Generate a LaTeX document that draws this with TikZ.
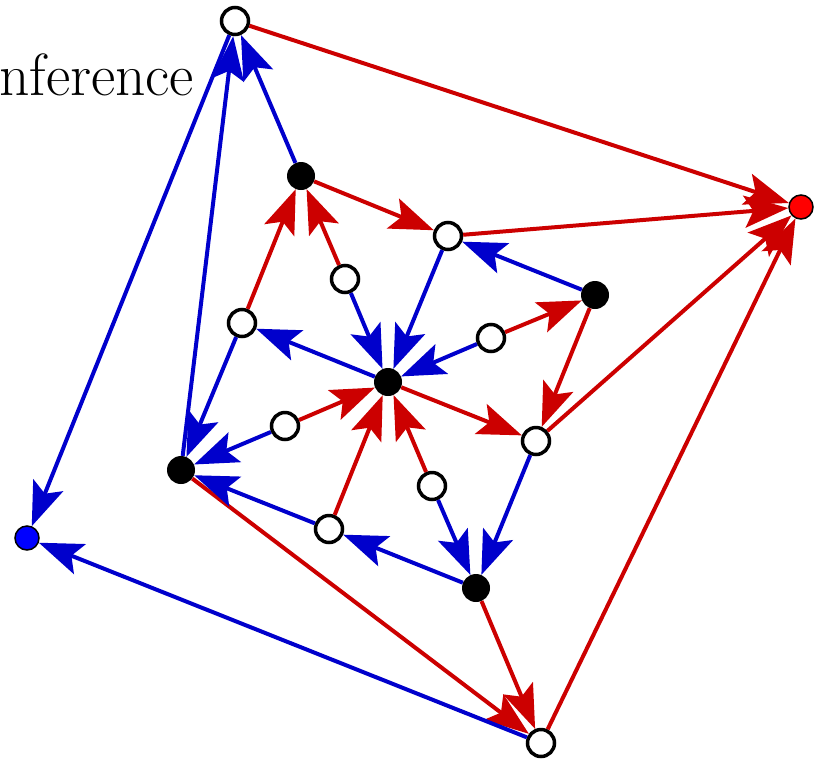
\documentclass[tikz,border=0pt]{standalone}
\usetikzlibrary{arrows.meta}
\definecolor{ered}{RGB}{204,0,0}
\definecolor{eblue}{RGB}{0,0,204}
\definecolor{nred}{RGB}{255,0,0}
\definecolor{nblue}{RGB}{0,0,255}
\begin{document}
\begin{tikzpicture}[x=1pt,y=-1pt,
  wn/.style={circle, draw=black, line width=3.5pt, fill=white, minimum size=27pt, inner sep=0pt},
  bn/.style={circle, fill=black, minimum size=28pt, inner sep=0pt},
  rn/.style={circle, fill=nred, draw=black, line width=1.5pt, minimum size=24pt, inner sep=0pt},
  bln/.style={circle, fill=nblue, draw=black, line width=1.5pt, minimum size=24pt, inner sep=0pt},
  tip/.style={-{Stealth[length=44pt,width=32pt,inset=9pt]}},
  re/.style={draw=ered, line width=4pt, tip},
  be/.style={draw=eblue, line width=4pt, tip}]
\useasboundingbox (0,0) rectangle (816,761);
\node[anchor=base west, inner sep=0pt, font=\fontsize{59.5}{66}\selectfont] (lbl) at (-1,95) {nference};
% nodes
\node[wn] (A) at (235,21) {};
\node[rn] (R) at (801,207) {};
\node[bln] (B) at (27,538) {};
\node[wn] (Bt) at (541,743) {};
\node[bn] (P1) at (301,176) {};
\node[wn] (W1) at (448,236) {};
\node[bn] (P2) at (595,295) {};
\node[wn] (W2) at (345,279) {};
\node[wn] (W3) at (242,323) {};
\node[wn] (W4) at (491,338) {};
\node[bn] (C) at (388,382) {};
\node[wn] (W5) at (285,426) {};
\node[wn] (W6) at (536,441) {};
\node[bn] (P3) at (181,470) {};
\node[wn] (W7) at (432,486) {};
\node[wn] (W8) at (329,529) {};
\node[bn] (P4) at (476,588) {};
% red edges
\draw[re] (A) -- (R);
\draw[re] (W1) -- (R);
\draw[re] (W6) -- (R);
\draw[re] (Bt) -- (R);
\draw[re] (P1) -- (W1);
\draw[re] (W3) -- (P1);
\draw[re] (W2) -- (P1);
\draw[re] (W4) -- (P2);
\draw[re] (P2) -- (W6);
\draw[re] (C) -- (W6);
\draw[re] (W5) -- (C);
\draw[re] (W8) -- (C);
\draw[re] (W7) -- (C);
\draw[re] (P3) -- (Bt);
% blue edges
\draw[be] (P1) -- (A);
\draw[be] (P3) -- (A);
\draw[be] (A) -- (B);
\draw[be] (Bt) -- (B);
\draw[be] (P2) -- (W1);
\draw[be] (W1) -- (C);
\draw[be] (W2) -- (C);
\draw[be] (W4) -- (C);
\draw[be] (C) -- (W3);
\draw[be] (W3) -- (P3);
\draw[be] (W5) -- (P3);
\draw[be] (W8) -- (P3);
\draw[be] (W6) -- (P4);
\draw[be] (W7) -- (P4);
\draw[be] (P4) -- (W8);
\draw[re] (P4) -- (Bt);
\end{tikzpicture}
\end{document}
